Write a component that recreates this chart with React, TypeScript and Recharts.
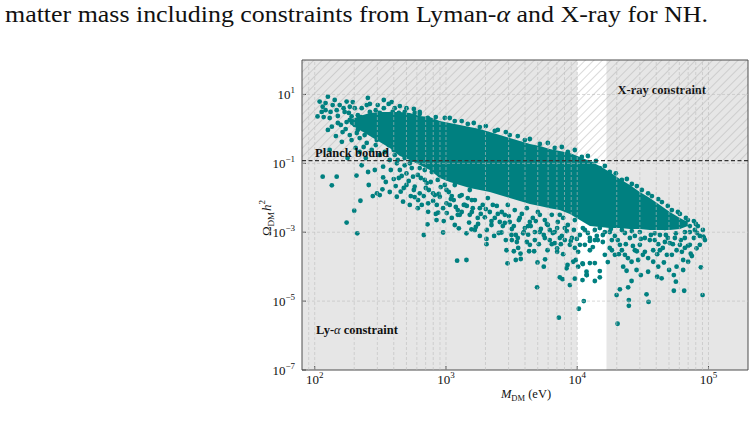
import React from 'react';
import {
  ComposedChart,
  Area,
  Scatter,
  XAxis,
  YAxis,
  ReferenceArea,
  ReferenceLine,
  Label,
} from 'recharts';

const SERIF = '"Liberation Serif", "DejaVu Serif", serif';
const TEAL = '#008080';
const REGION_GRAY = '#e6e6e6';
const GRID_GRAY = '#bdbdbd';

// Axis ranges and constraint boundaries
const massDomain = [80, 2e5];
const omegaDomain = [1e-7, 1e2];
const planckBound = 0.12;
const lyAlphaLimit = 1e4;
const xRayLimit = 1.67e4;

const massTicks = [1e2, 1e3, 1e4, 1e5];
const omegaTicks = [1e-7, 1e-5, 1e-3, 1e-1, 1e1];
const massGridLines = [
  90, 100, 200, 300, 400, 500, 600, 700, 800, 900,
  1e3, 2e3, 3e3, 4e3, 5e3, 6e3, 7e3, 8e3, 9e3,
  1e4, 2e4, 3e4, 4e4, 5e4, 6e4, 7e4, 8e4, 9e4, 1e5,
];
const omegaGridLines = [1e1, 1e-1, 1e-3, 1e-5];

// Envelope of the densest part of the scan (too packed to resolve single points)
const coreMass = [
  185, 220, 263, 313, 373, 445, 530, 631, 753, 897, 1069, 1274, 1518, 1811, 2157, 2570, 3062, 3652,
  4355, 5188, 6176, 7362, 8790, 10470, 12480, 14860, 17700, 21130, 25180, 29990, 35730, 42660,
  50790, 60560, 69660,
];
const coreHigh = [
  1.81, 2.37, 2.9, 3.1, 3.1, 3.1, 2.9, 2.37, 2.21, 1.69, 1.48, 1.3, 1.13, 0.99, 0.81, 0.66, 0.54, 0.445,
  0.364, 0.318, 0.261, 0.228, 0.2, 0.153, 0.117, 0.0836, 0.056, 0.0351, 0.0235, 0.0147, 0.0098, 0.0062,
  0.00386, 0.0026, 0.00198,
];
const coreLow = [
  1.39, 0.93, 0.62, 0.416, 0.279, 0.163, 0.125, 0.0893, 0.064, 0.0375, 0.0287, 0.0235, 0.0192, 0.0168, 0.0147, 0.012, 0.0098, 0.0081,
  0.0066, 0.0058, 0.005, 0.0044, 0.0034, 0.00226, 0.00151, 0.00142, 0.00132, 0.00132, 0.00124, 0.00124, 0.00116, 0.00116,
  0.00116, 0.00124, 0.00151,
];

// Scan points: upper cloud and its top edge
const upperMass = [
  109, 126, 142, 115, 105, 117, 137, 147, 135, 126,
  155, 175, 169, 185, 191, 175, 163, 185, 202, 213,
  228, 249, 232, 254, 263, 220, 249, 302, 313, 287,
  324, 297, 342, 360, 393, 422, 373, 422, 205, 272,
  342, 407, 161, 121, 263, 336, 429, 386, 485, 530,
  578, 469, 549, 631, 727, 836, 980, 1167, 1466, 1811,
  2355, 3062, 3990, 5188, 6745, 8476, 10840, 12920, 14860, 17700,
  21880, 26060, 31070, 37060, 44160, 52600, 60560, 69660, 80170, 90600,
  85920, 72110, 60560, 56440,
  185, 213, 240, 272, 302, 354, 407, 220, 178, 130, 150, 245, 313,
];
const upperOmega = [
  6.2, 8.6, 6.9, 4.4, 2.3, 2.2, 4.9, 3.5, 1.16, 0.93,
  4.9, 6.2, 3.1, 4.4, 2.3, 1.58, 0.81, 0.66, 1.3, 2.5,
  4.0, 4.9, 1.58, 2.07, 1.06, 0.54, 0.39, 4.9, 2.9, 1.3,
  0.81, 0.475, 1.3, 2.07, 3.1, 2.07, 0.475, 0.34, 0.28, 0.244,
  0.213, 0.175, 0.42, 3.5, 3.1, 4.0, 1.06, 0.81, 3.1, 2.07,
  2.9, 0.244, 0.125, 2.7, 2.07, 2.2, 2.07, 1.69, 1.39, 1.13,
  0.87, 0.66, 0.475, 0.364, 0.279, 0.213, 0.153, 0.0955, 0.073, 0.056,
  0.0328, 0.0251, 0.0168, 0.0112, 0.0075, 0.0044, 0.0034, 0.00226, 0.00173, 0.00116,
  0.00078, 0.00101, 0.00151, 0.00093,
  1.81, 0.93, 0.66, 1.81, 0.93, 0.62, 1.3, 0.213, 0.143, 0.244, 1.48, 0.143, 0.175,
];

// More of the light-mass cloud
const leftMass = [
  121, 132, 150, 166, 182, 195, 209, 224, 240, 263,
  282, 292, 318, 348, 366, 407, 437, 158, 145, 191,
  209, 236, 267, 292, 330, 366, 400, 429, 469, 130,
  113, 172, 202, 254, 336, 386, 445, 500, 569, 631,
];
const leftOmega = [
  5.6, 3.1, 2.37, 4.0, 2.9, 6.0, 1.69, 2.21, 1.21, 5.3,
  2.37, 3.5, 1.81, 2.5, 5.3, 4.0, 2.9, 1.3, 0.62, 0.475,
  0.76, 0.298, 0.76, 0.34, 0.54, 0.34, 0.244, 0.125, 0.475, 2.07,
  3.1, 0.99, 4.0, 7.9, 6.9, 6.0, 4.6, 4.0, 3.8, 3.1,
];

// Top edge of the band
const edgeMass = [
  1069, 1318, 1629, 2012, 2483, 2858, 3524, 4355, 5970, 7634, 9590, 12050,
  13870, 16230, 19680, 23880, 28450, 34670, 41400, 48990, 58480, 67300, 77450,
];
const edgeOmega = [
  2.07, 1.69, 1.48, 1.21, 0.93, 0.81, 0.62, 0.508, 0.389, 0.298, 0.244, 0.163,
  0.117, 0.0836, 0.0513, 0.0351, 0.0219, 0.0135, 0.0092, 0.0058, 0.00386, 0.0026, 0.00211,
];

// Low-mass points below the Planck bound
const lowMass = [
  115, 135, 147, 208, 228, 255, 223, 200, 175, 211,
  277, 298, 328, 332, 400, 422, 452, 471, 530, 445,
  500, 561, 578, 631, 613, 731, 731, 723, 847, 871,
  962, 951, 678, 798, 897, 1009, 1009, 422, 530, 373,
  332, 689, 780, 866, 631, 1014,
  485, 689, 897, 1167, 1318, 1518, 1107,
  485, 549, 610, 665, 702, 766, 822, 912, 1050, 1146,
  1274, 1367, 1466, 1230, 1014, 851, 654, 578, 500, 437,
  380, 348, 287, 258, 313,
  460, 520, 569, 643, 678, 740, 798, 881, 951, 1089,
  1188, 1318, 1442, 1107, 836, 610, 539, 477, 414, 373,
  714, 980,
];
const lowOmega = [
  0.041, 0.023, 0.041, 0.044, 0.088, 0.056, 0.0082, 0.0042, 0.0019, 0.00093,
  0.0112, 0.0135, 0.0176, 0.039, 0.035, 0.0107, 0.015, 0.0077, 0.0062, 0.064,
  0.051, 0.041, 0.021, 0.0135, 0.0086, 0.0069, 0.0039, 0.0017, 0.00226, 0.0037,
  0.0021, 0.00098, 0.00083, 0.0135, 0.0107, 0.0069, 0.0168, 0.1, 0.1, 0.125,
  0.08, 0.033, 0.056, 0.033, 0.073, 0.0375,
  0.088, 0.064, 0.0458, 0.0235, 0.012, 0.0168, 0.0112,
  0.143, 0.073, 0.046, 0.125, 0.0192, 0.0287, 0.012, 0.0205, 0.0147, 0.0086,
  0.0112, 0.0062, 0.0098, 0.0032, 0.0036, 0.0062, 0.0062, 0.0104, 0.0235, 0.0375,
  0.064, 0.0287, 0.064, 0.0235, 0.012,
  0.0429, 0.0307, 0.0168, 0.0375, 0.0112, 0.0168, 0.0081, 0.0129, 0.005, 0.0092,
  0.0054, 0.00386, 0.0058, 0.0026, 0.0034, 0.005, 0.0112, 0.0192, 0.0219, 0.0147,
  0.0268, 0.0235,
];

// keV-range points under the dense band
const midMass = [
  1216, 1432, 1253, 1432, 1500, 1564, 1756, 1977, 2036, 2036,
  2327, 2222, 2649, 2891, 2942, 3156, 3404, 3288, 3548, 3697,
  3404, 3715, 3873, 4227, 4300, 4696, 4753, 4980, 4945, 5560,
  5690, 5940, 6400, 7030, 7362, 7728, 7244, 8290, 8433, 8790,
  9590, 9310, 10160, 10970, 11220, 10280, 10970, 11770, 11770, 7812,
  1069, 1230, 1390, 1574, 1811, 2157, 2439, 2806, 3062, 3652,
  4355, 5188, 5970, 6745, 8043, 9100, 10470, 12480, 14350, 15670,
  13620, 14860, 14860, 13620, 12480, 11040, 9750, 11830,
  1660, 1905, 2084, 2355, 2661, 2958, 3343, 3783, 4130, 4587,
  5012, 5662, 6400, 7112, 7812, 8476, 9420, 10470, 12050, 13620,
  2710, 3176, 3990, 4753, 5662, 6745, 8043, 9590, 11430, 2274,
  1518, 1746, 3467, 6176, 4130,
  1600, 1841, 2012, 2222, 2483, 2806, 3012, 3288, 3589, 3917,
  4427, 4834, 5284, 5867, 6516, 7030, 7634, 8330, 8935, 9930,
  11040, 12480, 14100, 1687, 2525, 3524, 5098, 7030, 1574, 2046,
  2858, 4227, 5560, 7502, 10160, 13150,
];
const midOmega = [
  0.000149, 0.000156, 0.0013, 0.00093, 0.0019, 0.00121, 0.00173, 0.0027, 0.00064, 0.00045,
  0.00078, 0.00162, 0.00098, 0.0003, 0.000125, 0.00083, 0.00083, 0.00028, 0.00035, 0.00024,
  0.000156, 0.000167, 0.00093, 0.00085, 0.00028, 0.00028, 0.00059, 0.000132, 0.0000251, 0.0001,
  0.000163, 0.0003, 0.00045, 0.00034, 0.000049, 0.0000432, 0.0000033, 0.0000895, 0.000112, 0.0000293,
  0.0000447, 0.000139, 0.0001, 0.000125, 0.00001, 0.000006, 0.0000409, 0.0000571, 0.0000713, 0.00023,
  0.0062, 0.0044, 0.0062, 0.00386, 0.005, 0.00386, 0.0058, 0.0032, 0.00198, 0.0026,
  0.00198, 0.0032, 0.00162, 0.00101, 0.00132, 0.00068, 0.00043, 0.0003, 0.00059, 0.00083,
  0.000127, 0.0000747, 0.000049, 0.0000383, 0.000127, 0.000119, 0.000156, 0.0000571,
  0.0086, 0.0062, 0.0098, 0.0026, 0.00386, 0.0062, 0.0044, 0.0034, 0.005, 0.0026,
  0.00386, 0.00226, 0.0032, 0.00198, 0.0026, 0.00162, 0.00116, 0.00083, 0.00095, 0.00116,
  0.00151, 0.00124, 0.00132, 0.00101, 0.00068, 0.00048, 0.00059, 0.00035, 0.00043, 0.0062,
  0.0032, 0.0026, 0.00052, 0.00116, 0.00052,
  0.005, 0.0034, 0.0047, 0.00211, 0.0034, 0.00185, 0.00295, 0.00151, 0.00226, 0.00101,
  0.00151, 0.00211, 0.00124, 0.00173, 0.00095, 0.00132, 0.00078, 0.00108, 0.00056, 0.00064,
  0.00132, 0.00056, 0.00078, 0.00142, 0.00095, 0.00068, 0.00045, 0.00027, 0.0086, 0.00116,
  0.00059, 0.00151, 0.00083, 0.00045, 0.00027, 0.00037,
];

// Heavy end of the scan
const heavyMass = [
  20300, 19950, 21130, 24730, 24730, 25940, 24430, 30530, 33730, 34940,
  23770, 22390, 25940, 28310, 29110, 34670, 37930, 41400, 40640, 43950,
  45710, 50120, 54450, 54450, 56440, 57140, 65290, 64130, 64130, 69980,
  73080, 81140, 87500, 90140, 91200, 72110, 57140, 50790, 18360, 21130,
  25180, 29990, 35730, 42660, 48990, 32760, 19360, 17100,
  14860, 17700, 21880, 29990, 38990, 46540, 66070, 78710, 93970, 7362,
  9590, 11430, 13620, 8790, 6176, 5188, 4355, 2570, 1660, 1274,
  1167, 1811, 3176, 7362, 12480, 18360, 23070, 27480, 42660, 48190, 60560,
  16230, 19360, 23070, 27480, 32760, 38990, 46540, 55460, 66070, 77450,
  85920, 17700, 21880, 26550, 31620, 37930, 44870, 52600, 62700, 74680,
  16230, 24320, 34670, 83000, 72110,
  15670, 18030, 20370, 23450, 26060, 30530, 36400, 41400, 47330, 53550,
  61660, 69660, 81660, 92260, 20750, 28450, 40640, 66070,
];
const heavyOmega = [
  0.0000022, 0.000015, 0.000022, 0.0000107, 0.0000073, 0.0000383, 0.0000251, 0.0000571, 0.0000157, 0.0000095,
  0.000076, 0.0001, 0.000139, 0.00008, 0.000156, 0.0000713, 0.000139, 0.0001, 0.000051, 0.0000458,
  0.000132, 0.00008, 0.0000571, 0.00002, 0.0000366, 0.0001, 0.00002, 0.00008, 0.000156, 0.000139,
  0.00024, 0.00034, 0.000096, 0.000015, 0.00075, 0.00043, 0.0003, 0.00048, 0.00059, 0.00043,
  0.00068, 0.00043, 0.00059, 0.00083, 0.00068, 0.00027, 0.00022, 0.000136,
  0.00132, 0.00101, 0.00116, 0.00101, 0.00093, 0.00132, 0.00068, 0.00116, 0.00059, 0.0032,
  0.00226, 0.00116, 0.00059, 0.00043, 0.00059, 0.00101, 0.00043, 0.00198, 0.00116, 0.0032,
  0.00162, 0.00078, 0.00059, 0.00068, 0.00068, 0.0003, 0.00022, 0.0003, 0.0003, 0.00022, 0.00043,
  0.00101, 0.00078, 0.00095, 0.00078, 0.00068, 0.00059, 0.00052, 0.00068, 0.00101, 0.00068,
  0.00043, 0.00035, 0.0003, 0.0004, 0.00022, 0.0003, 0.00035, 0.00022, 0.00027, 0.000204,
  0.00022, 0.000178, 0.000178, 0.00151, 0.00151,
  0.00052, 0.00124, 0.00059, 0.00045, 0.00108, 0.00064, 0.00083, 0.00045, 0.00083, 0.00045,
  0.00059, 0.0004, 0.00095, 0.00068, 0.00023, 0.00028, 0.00023, 0.00035,
];

const bandData = coreMass.map((m, i) => ({ m, band: [coreLow[i], coreHigh[i]] }));
const toPoints = (ms: number[], ws: number[]) => ms.map((m, i) => ({ m, w: ws[i] }));
const scanPoints = [
  ...toPoints(upperMass, upperOmega),
  ...toPoints(leftMass, leftOmega),
  ...toPoints(edgeMass, edgeOmega),
  ...toPoints(lowMass, lowOmega),
  ...toPoints(midMass, midOmega),
  ...toPoints(heavyMass, heavyOmega),
];

const supMinus = (v: number) => {
  const e = Math.round(Math.log10(v));
  return e < 0 ? `\u2212${-e}` : `${e}`;
};

const MassTick = (props: any) => {
  const { x, y, payload } = props;
  return (
    <text x={x} y={y + 14} textAnchor="middle" fontFamily={SERIF} fontSize={13} fill="#111">
      10<tspan dy={-6} fontSize={9}>{supMinus(payload.value)}</tspan>
    </text>
  );
};

const OmegaTick = (props: any) => {
  const { x, y, payload } = props;
  return (
    <text x={x} y={y + 4.5} textAnchor="end" fontFamily={SERIF} fontSize={13} fill="#111">
      10<tspan dy={-6} fontSize={9}>{supMinus(payload.value)}</tspan>
    </text>
  );
};

const Dot = (props: any) => <circle cx={props.cx} cy={props.cy} r={2.4} fill={TEAL} />;

const boldLabel = (text: React.ReactNode, dx: number, dy: number) => (props: any) => {
  const vb = props.viewBox || {};
  return (
    <text x={vb.x + dx} y={vb.y + dy} fontFamily={SERIF} fontWeight="bold" fontSize={12.5} fill="#111">
      {text}
    </text>
  );
};

export default function App() {
  return (
    <div style={{ position: 'absolute', left: 0, top: 0, width: 755, height: 426, background: '#fff' }}>
      <svg width={0} height={0} style={{ position: 'absolute' }}>
        <defs>
          <pattern id="hatch" width={6} height={6} patternUnits="userSpaceOnUse" patternTransform="rotate(45)">
            <line x1={0} y1={0} x2={0} y2={6} stroke="#b0b0b0" strokeWidth={0.9} />
          </pattern>
        </defs>
      </svg>
      <ComposedChart
        width={755}
        height={426}
        data={bandData}
        margin={{ top: 59, right: 6, bottom: 0, left: 0 }}
      >
        <XAxis
          xAxisId="mass"
          dataKey="m"
          type="number"
          scale="log"
          domain={massDomain}
          allowDataOverflow
          ticks={massTicks}
          tick={<MassTick />}
          tickSize={-4}
          tickMargin={4}
          height={56}
          stroke="#4d4d4d"
          interval={0}
        >
          <Label
            content={() => (
              <text x={526} y={398} textAnchor="middle" fontFamily={SERIF} fontSize={12.5} fill="#111">
                <tspan fontStyle="italic">M</tspan>
                <tspan dy={3} fontSize={8.5}>DM</tspan>
                <tspan dy={-3}> (eV)</tspan>
              </text>
            )}
          />
        </XAxis>
        <XAxis
          xAxisId="top"
          orientation="top"
          dataKey="m"
          type="number"
          scale="log"
          domain={massDomain}
          allowDataOverflow
          ticks={massTicks}
          tick={false}
          tickSize={-4}
          height={1}
          stroke="#4d4d4d"
          interval={0}
        >
          <Label
            content={() => (
              <text
                x={5} y={22} fontFamily={SERIF} fontSize={23} fill="#111"
                textLength={703} lengthAdjust="spacingAndGlyphs"
              >
                matter mass including constraints from Lyman-<tspan fontStyle="italic">α</tspan> and X-ray for NH.
              </text>
            )}
          />
        </XAxis>
        <YAxis
          yAxisId="omega"
          type="number"
          scale="log"
          domain={omegaDomain}
          allowDataOverflow
          ticks={omegaTicks}
          tick={<OmegaTick />}
          tickSize={-4}
          tickMargin={11}
          width={302}
          stroke="#4d4d4d"
          interval={0}
        >
          <Label
            content={() => (
              <text transform="translate(271,218) rotate(-90)" textAnchor="middle" fontFamily={SERIF} fontSize={13} fill="#111">
                Ω<tspan dy={3} fontSize={9}>DM</tspan>
                <tspan dy={-3} dx={1} fontStyle="italic">h</tspan>
                <tspan dy={-6} fontSize={9}>2</tspan>
              </text>
            )}
          />
        </YAxis>
        <YAxis
          yAxisId="right"
          orientation="right"
          type="number"
          scale="log"
          domain={omegaDomain}
          allowDataOverflow
          ticks={omegaTicks}
          tick={false}
          tickSize={-4}
          width={1}
          stroke="#4d4d4d"
          interval={0}
        />

        {/* excluded mass ranges */}
        <ReferenceArea
          xAxisId="mass" yAxisId="omega"
          x1={massDomain[0]} x2={lyAlphaLimit} y1={omegaDomain[0]} y2={omegaDomain[1]}
          fill={REGION_GRAY} fillOpacity={1} stroke="none" ifOverflow="hidden" zIndex={100}
          label={{ content: boldLabel(<>Ly-<tspan fontStyle="italic" fontWeight="normal">α</tspan> constraint</>, 14, 274) }}
        />
        <ReferenceArea
          xAxisId="mass" yAxisId="omega"
          x1={xRayLimit} x2={massDomain[1]} y1={omegaDomain[0]} y2={omegaDomain[1]}
          fill={REGION_GRAY} fillOpacity={1} stroke="none" ifOverflow="hidden" zIndex={100}
          label={{ content: boldLabel('X-ray constraint', 11, 34) }}
        />
        {/* over-abundant relic density */}
        <ReferenceArea
          xAxisId="mass" yAxisId="omega"
          x1={massDomain[0]} x2={massDomain[1]} y1={planckBound} y2={omegaDomain[1]}
          fill="url(#hatch)" fillOpacity={1} stroke="none" ifOverflow="hidden" zIndex={110}
        />

        <Area
          xAxisId="mass" yAxisId="omega"
          dataKey="band" type="linear"
          fill={TEAL} fillOpacity={1} stroke="none"
          isAnimationActive={false} dot={false} activeDot={false} zIndex={120}
        />
        <Scatter
          xAxisId="mass" yAxisId="omega"
          data={scanPoints} dataKey="w"
          shape={<Dot />} isAnimationActive={false} zIndex={600}
        />

        {massGridLines.map((m) => (
          <ReferenceLine
            key={`gx${m}`} xAxisId="mass" yAxisId="omega" x={m}
            stroke={GRID_GRAY} strokeOpacity={0.75} strokeDasharray="3 2" strokeWidth={0.8} zIndex={650}
          />
        ))}
        {omegaGridLines.map((w) => (
          <ReferenceLine
            key={`gy${w}`} xAxisId="mass" yAxisId="omega" y={w}
            stroke={GRID_GRAY} strokeOpacity={0.75} strokeDasharray="3 2" strokeWidth={0.8} zIndex={650}
          />
        ))}

        <ReferenceLine
          xAxisId="mass" yAxisId="omega" y={planckBound}
          stroke="#333" strokeDasharray="4 2.5" strokeWidth={1.3} zIndex={700}
          label={{ content: boldLabel('Planck bound', 13, -4) }}
        />
      </ComposedChart>
    </div>
  );
}
